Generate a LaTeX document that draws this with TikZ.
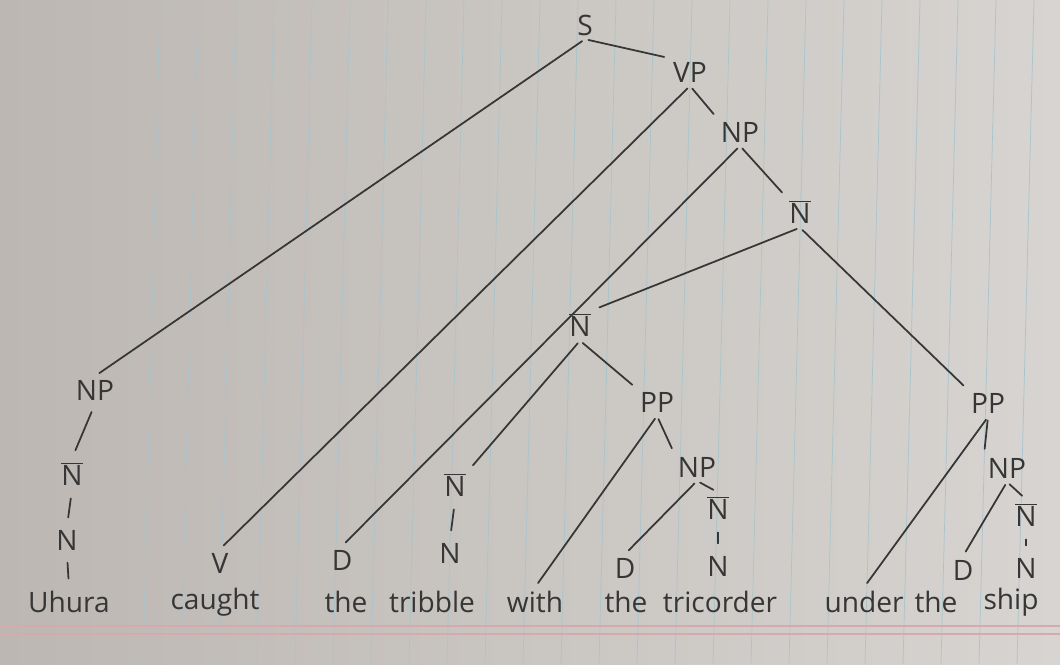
\documentclass[tikz,border=0pt]{standalone}
\usepackage{fontspec}
\setmainfont{Open Sans}
\usetikzlibrary{positioning}
\definecolor{ink}{HTML}{363636}
\definecolor{paperdark}{HTML}{BCB7B2}
\definecolor{paperlight}{HTML}{D7D4D1}
\definecolor{rule}{HTML}{A9C4CC}
\definecolor{margin}{HTML}{D8A9AB}
\newcommand{\Nbar}{$\overline{\hbox{N}}$}

\begin{document}
\begin{tikzpicture}[x=0.02cm, y=-0.02cm,
  cat/.style={font=\fontsize{16}{19}\selectfont, text=ink, inner sep=2pt},
  word/.style={font=\fontsize{16}{19}\selectfont, text=ink, inner sep=2pt},
  branch/.style={draw=ink, line width=1pt, line cap=round, shorten <=2pt, shorten >=3pt},
  unary/.style={draw=ink, line width=1pt, line cap=round, shorten <=5pt, shorten >=5pt}]
  \useasboundingbox (0,0) rectangle (1060,664);

  % paper
  \shade[left color=paperdark, right color=paperlight] (0,0) rectangle (1060,664);
  \foreach \i in {0,...,23}
    \draw[rule, line width=0.4pt] ({160+38*\i},0) -- ({143+38*\i},664);
  \draw[margin, line width=1pt] (0,626) -- (1060,626);
  \draw[margin, line width=1pt] (0,634) -- (1060,634);

  % sentence
  \node[word] (uhura) at (69,602) {Uhura};
  \node[word] (caught) at (215,602) {caught};
  \node[word] (the1) at (346,602) {the};
  \node[word] (tribble) at (432,602) {tribble};
  \node[word] (with) at (535,602) {with};
  \node[word] (the2) at (626,602) {the};
  \node[word] (tricorder) at (720,602) {tricorder};
  \node[word] (under) at (864,602) {under};
  \node[word] (the3) at (936,602) {the};
  \node[word] (ship) at (1011,602) {ship};

  % categories
  \node[cat] (s) at (585,25) {S};
  \node[cat] (np1) at (95,390) {NP};
  \node[cat] (nb1) at (72,474) {\Nbar};
  \node[cat] (n1) at (67,540) {N};
  \node[cat] (vp) at (690,72) {VP};
  \node[cat] (v) at (220,563) {V};
  \node[cat] (np2) at (740,132) {NP};
  \node[cat] (d1) at (342,560) {D};
  \node[cat] (nbt) at (800,212) {\Nbar};
  \node[cat] (nbm) at (580,325) {\Nbar};
  \node[cat] (nbl) at (455,485) {\Nbar};
  \node[cat] (nl) at (450,553) {N};
  \node[cat] (pp1) at (657,402) {PP};
  \node[cat] (np3) at (697,467) {NP};
  \node[cat] (d3) at (625,568) {D};
  \node[cat] (nb3) at (718,508) {\Nbar};
  \node[cat] (n3) at (718,566) {N};
  \node[cat] (pp2) at (988,403) {PP};
  \node[cat] (np4) at (1007,468) {NP};
  \node[cat] (d4) at (963,570) {D};
  \node[cat] (nb4) at (1026,515) {\Nbar};
  \node[cat] (n4) at (1026,568) {N};

  % branches
  \draw[branch] (s.south) -- (np1.north);
  \draw[branch] (s.south) -- (vp.north west);
  \draw[branch] (vp.south) -- (v.north);
  \draw[branch] (vp.south) -- (np2.north west);
  \draw[branch] (np2.south) -- (d1.north);
  \draw[branch] (np2.south) -- (nbt.north west);
  \draw[branch] (nbt.south) -- (nbm.north east);
  \draw[branch] (nbt.south) -- (pp2.north west);
  \draw[branch] (nbm.south) -- (nbl.north east);
  \draw[branch] (nbm.south) -- (pp1.north west);
  \draw[branch] (pp1.south) -- (with.north);
  \draw[branch] (pp1.south) -- (np3.north west);
  \draw[branch] (np3.south) -- (d3.north);
  \draw[branch] (np3.south) -- (nb3.north);
  \draw[branch] (pp2.south) -- (under.north);
  \draw[branch] (pp2.south) -- (np4.north west);
  \draw[branch] (np4.south) -- (d4.north);
  \draw[branch] (np4.south) -- (nb4.north);

  % unary steps
  \draw[unary] (np1.south) -- (nb1.north);
  \draw[unary] (nb1.south) -- (n1.north);
  \draw[unary] (n1.south) -- (uhura.north);
  \draw[unary] (nbl.south) -- (nl.north);
  \draw[unary] (nb3.south) -- (n3.north);
  \draw[unary] (nb4.south) -- (n4.north);
\end{tikzpicture}
\end{document}
